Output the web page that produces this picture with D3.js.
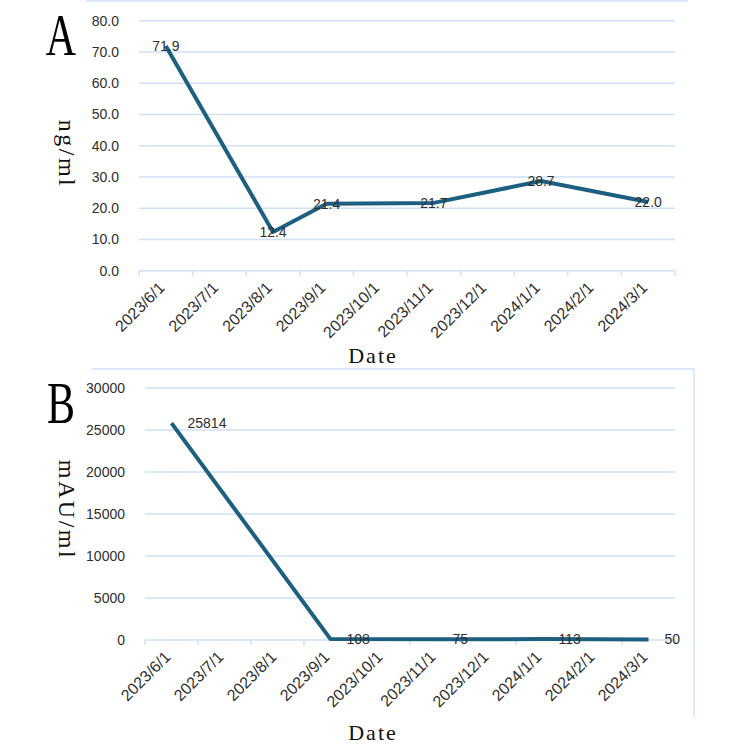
<!DOCTYPE html>
<html>
<head>
<meta charset="utf-8">
<script src="https://cdn.jsdelivr.net/npm/d3@7"></script>
<style>
  body { margin: 0; background: #fff; }
  svg { display: block; }
</style>
</head>
<body>
<div id="chart"></div>
<script>
// month categories on the x axis
const months = ["2023/6/1", "2023/7/1", "2023/8/1", "2023/9/1", "2023/10/1",
                "2023/11/1", "2023/12/1", "2024/1/1", "2024/2/1", "2024/3/1"];

// panel A (ng/ml)
const datesA = ["2023/6/1", "2023/8/1", "2023/9/1", "2023/11/1", "2024/1/1", "2024/3/1"];
const valuesA = [71.9, 12.4, 21.4, 21.7, 28.7, 22.0];
const ticksA = [0, 10, 20, 30, 40, 50, 60, 70, 80];

// panel B (mAU/ml)
const datesB = ["2023/6/1", "2023/9/1", "2023/11/1", "2024/1/1", "2024/3/1"];
const valuesB = [25814, 108, 75, 113, 50];
const ticksB = [0, 5000, 10000, 15000, 20000, 25000, 30000];

const W = 750, H = 746;
const lineColor = "#1d5f80";
const gridColor = "#cfe1f4";
const textColor = "#2e2e2e";

const svg = d3.select("#chart").append("svg")
    .attr("width", W)
    .attr("height", H);

// Function to draw one panel
function drawPanel(opts) {
    const { letter, dates, values, ticks, yMax, x0, x1, yTop, yBottom, yTitle, titleY, dateY, letterY, fmt, labelPos, border } = opts;

    const g = svg.append("g");

    // light blue chart-area border pieces
    border.forEach(b => {
        g.append("line")
            .attr("x1", b[0]).attr("y1", b[1]).attr("x2", b[2]).attr("y2", b[3])
            .attr("stroke", gridColor)
            .attr("stroke-width", 1.5);
    });

    const xScale = d3.scaleBand()
        .domain(months)
        .range([x0, x1]);

    const yScale = d3.scaleLinear()
        .domain([0, yMax])
        .range([yBottom, yTop]);

    // gridlines
    g.selectAll(".grid")
        .data(ticks.filter(d => d > 0))
        .enter()
        .append("line")
        .attr("x1", x0).attr("x2", x1)
        .attr("y1", d => yScale(d)).attr("y2", d => yScale(d))
        .attr("stroke", gridColor)
        .attr("stroke-width", 1.5);

    // y tick labels
    g.append("g")
        .attr("transform", `translate(${x0 - 20}, 0)`)
        .call(d3.axisLeft(yScale).tickValues(ticks).tickFormat(fmt).tickSize(0).tickPadding(0))
        .call(ax => ax.select(".domain").remove())
        .selectAll("text")
        .style("font-family", "'Liberation Sans', Arial, sans-serif")
        .style("font-size", "14px")
        .attr("fill", textColor);

    // x axis: baseline with ticks between categories
    const xAxis = g.append("g").attr("transform", `translate(0, ${yBottom})`);
    xAxis.append("line")
        .attr("x1", x0).attr("x2", x1)
        .attr("stroke", gridColor)
        .attr("stroke-width", 1.5);
    xAxis.selectAll(".tk")
        .data(months.concat(["end"]))
        .enter()
        .append("line")
        .attr("x1", d => d === "end" ? x1 : xScale(d))
        .attr("x2", d => d === "end" ? x1 : xScale(d))
        .attr("y1", 0).attr("y2", 5)
        .attr("stroke", gridColor)
        .attr("stroke-width", 1.5);
    xAxis.selectAll(".lbl")
        .data(months)
        .enter()
        .append("text")
        .attr("transform", d => `translate(${xScale(d) + xScale.bandwidth() / 2}, 18) rotate(-45)`)
        .attr("text-anchor", "end")
        .style("font-family", "'Liberation Sans', Arial, sans-serif")
        .style("font-size", "16px")
        .attr("fill", textColor)
        .text(d => d);

    // the data line
    const pts = dates.map((d, i) => ({ date: d, value: values[i] }));
    const cx = d => xScale(d.date) + xScale.bandwidth() / 2;

    g.append("path")
        .datum(pts)
        .attr("fill", "none")
        .attr("stroke", lineColor)
        .attr("stroke-width", 4)
        .attr("stroke-linejoin", "round")
        .attr("d", d3.line().x(cx).y(d => yScale(d.value)));

    // data labels
    g.selectAll(".dl")
        .data(pts)
        .enter()
        .append("text")
        .attr("x", d => labelPos === "right" ? cx(d) + 16 : cx(d))
        .attr("y", d => yScale(d.value))
        .attr("dy", "0.35em")
        .attr("text-anchor", labelPos === "right" ? "start" : "middle")
        .style("font-family", "'Liberation Sans', Arial, sans-serif")
        .style("font-size", "14px")
        .attr("fill", textColor)
        .text(d => fmt(d.value));

    // axis titles
    g.append("text")
        .attr("transform", `translate(59, ${titleY}) rotate(90)`)
        .attr("text-anchor", "middle")
        .style("font-family", "'Liberation Serif', serif")
        .style("font-size", "24px")
        .style("letter-spacing", "2.5px")
        .attr("fill", "#111")
        .text(yTitle);

    g.append("text")
        .attr("x", 373)
        .attr("y", dateY)
        .attr("text-anchor", "middle")
        .style("font-family", "'Liberation Serif', serif")
        .style("font-size", "22px")
        .style("letter-spacing", "2px")
        .attr("fill", "#111")
        .text("Date");

    // panel letter
    g.append("text")
        .attr("transform", `translate(61, ${letterY}) scale(0.7, 1)`)
        .attr("text-anchor", "middle")
        .style("font-family", "'Liberation Serif', serif")
        .style("font-size", "60px")
        .attr("fill", "#000")
        .text(letter);
}

drawPanel({
    letter: "A",
    dates: datesA, values: valuesA, ticks: ticksA, yMax: 80,
    x0: 139, x1: 675, yTop: 20.7, yBottom: 270.7,
    yTitle: "ng/ml", titleY: 154, dateY: 363, letterY: 55,
    fmt: d => d.toFixed(1),
    labelPos: "center",
    border: [[86, 1, 688, 1]]
});

drawPanel({
    letter: "B",
    dates: datesB, values: valuesB, ticks: ticksB, yMax: 30000,
    x0: 145, x1: 675, yTop: 388, yBottom: 640,
    yTitle: "mAU/ml", titleY: 510, dateY: 740, letterY: 423,
    fmt: d => String(d),
    labelPos: "right",
    border: [[92, 369, 694, 369], [694, 369, 694, 717]]
});
</script>
</body>
</html>
